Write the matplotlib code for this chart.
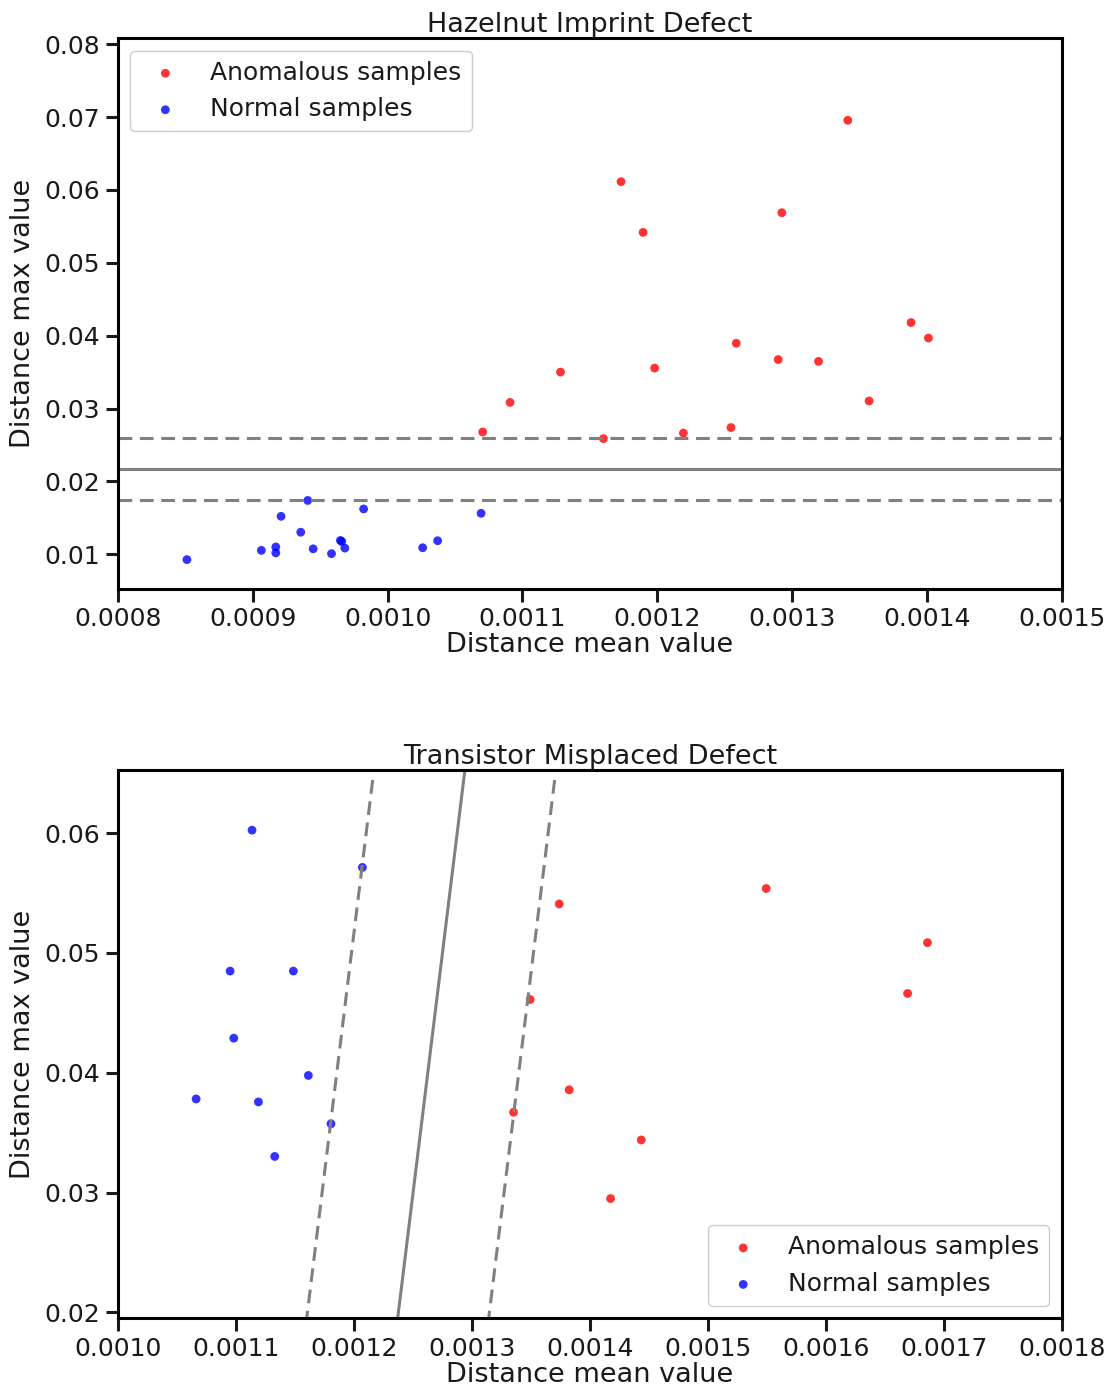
import numpy as np
import matplotlib
matplotlib.use('Agg')
import matplotlib.pyplot as plt

# --- Hazelnut imprint defect ---
hz_anom_mean = [0.0010705, 0.0010908, 0.0011282, 0.0011600, 0.0011731, 0.0011894, 0.0011980,
                0.0012193, 0.0012546, 0.0012585, 0.0012923, 0.0012896, 0.0013195, 0.0013412,
                0.0013570, 0.0013881, 0.0014010]
hz_anom_max = [0.02678, 0.03084, 0.03500, 0.02587, 0.06113, 0.05417, 0.03555,
               0.02663, 0.02739, 0.03896, 0.05687, 0.03672, 0.03647, 0.06955,
               0.03104, 0.04180, 0.03967]
hz_norm_mean = [0.0008512, 0.0009064, 0.0009171, 0.0009171, 0.0009210, 0.0009356, 0.0009408,
                0.0009448, 0.0009584, 0.0009650, 0.0009660, 0.0009683, 0.0009822, 0.0010260,
                0.0010371, 0.0010693]
hz_norm_max = [0.00927, 0.01054, 0.01100, 0.01019, 0.01521, 0.01303, 0.01739,
               0.01075, 0.01009, 0.01190, 0.01175, 0.01085, 0.01622, 0.01090,
               0.01186, 0.01562]
hz_threshold = 0.02165
hz_margin = 0.00424

# --- Transistor misplaced defect ---
tr_anom_mean = [0.0013740, 0.0013494, 0.0013824, 0.0013353, 0.0015494, 0.0016860, 0.0016692,
                0.0014435, 0.0014175]
tr_anom_max = [0.05409, 0.04612, 0.03858, 0.03671, 0.05538, 0.05086, 0.04662, 0.03440, 0.02951]
tr_norm_mean = [0.0011137, 0.0010951, 0.0011487, 0.0010982, 0.0011614, 0.0010663, 0.0011191,
                0.0011806, 0.0011329, 0.0012072]
tr_norm_max = [0.06025, 0.04849, 0.04849, 0.04289, 0.03978, 0.03782, 0.03757, 0.03575,
               0.03302, 0.05714]
# boundary: mean = tr_b0 + tr_b1 * max, margins shifted by +/- tr_margin along x
tr_b0 = 0.0012128
tr_b1 = 0.001245
tr_margin = 0.0000771

plt.rcParams['font.family'] = ['DejaVu Sans']
plt.rcParams['font.size'] = 18
plt.rcParams['text.color'] = '#1a1a1a'
plt.rcParams['axes.labelcolor'] = '#1a1a1a'
plt.rcParams['xtick.color'] = '#1a1a1a'
plt.rcParams['ytick.color'] = '#1a1a1a'

fig = plt.figure(figsize=(11.12, 13.93), dpi=100)
ax1 = fig.add_axes([0.106, 0.5775, 0.849, 0.395])
ax2 = fig.add_axes([0.106, 0.0535, 0.849, 0.394])


def style(ax):
	for s in ax.spines.values():
		s.set_linewidth(2.2)
		s.set_color('black')
	ax.tick_params(axis='both', which='major', length=9, width=2.2, labelsize=18, pad=4)
	ax.set_xlabel('Distance mean value', fontsize=19.5, labelpad=1)
	ax.set_ylabel('Distance max value', fontsize=19.5, labelpad=6)


# top panel
ax1.scatter(hz_anom_mean, hz_anom_max, s=40, c='red', alpha=0.8, edgecolors='none', label='Anomalous samples')
ax1.scatter(hz_norm_mean, hz_norm_max, s=40, c='blue', alpha=0.8, edgecolors='none', label='Normal samples')
ax1.axhline(hz_threshold, color='gray', lw=2.2, ls='-')
ax1.axhline(hz_threshold + hz_margin, color='gray', lw=2.2, ls=(0, (4.5, 2.5)))
ax1.axhline(hz_threshold - hz_margin, color='gray', lw=2.2, ls=(0, (4.5, 2.5)))
ax1.set_xlim(0.0008, 0.0015)
ax1.set_ylim(0.0053, 0.0808)
ax1.set_xticks(np.arange(0.0008, 0.00151, 0.0001))
ax1.set_xticklabels(['%.4f' % v for v in np.arange(0.0008, 0.00151, 0.0001)])
ax1.set_yticks(np.arange(0.01, 0.0801, 0.01))
ax1.set_yticklabels(['%.2f' % v for v in np.arange(0.01, 0.0801, 0.01)])
ax1.set_title('Hazelnut Imprint Defect', fontsize=19.5, pad=3)
style(ax1)
ax1.legend(loc='upper left', fontsize=18, frameon=True, edgecolor='#cccccc', framealpha=1)

# bottom panel
ax2.scatter(tr_anom_mean, tr_anom_max, s=40, c='red', alpha=0.8, edgecolors='none', label='Anomalous samples')
ax2.scatter(tr_norm_mean, tr_norm_max, s=40, c='blue', alpha=0.8, edgecolors='none', label='Normal samples')
yy = np.array([0.0190, 0.0650])
ax2.plot(tr_b0 + tr_b1 * yy, yy, color='gray', lw=2.2, ls='-')
ax2.plot(tr_b0 - tr_margin + tr_b1 * yy, yy, color='gray', lw=2.2, ls=(0, (4.5, 2.5)))
ax2.plot(tr_b0 + tr_margin + tr_b1 * yy, yy, color='gray', lw=2.2, ls=(0, (4.5, 2.5)))
ax2.set_xlim(0.0010, 0.0018)
ax2.set_ylim(0.0195, 0.0653)
ax2.set_xticks(np.arange(0.0010, 0.00181, 0.0001))
ax2.set_xticklabels(['%.4f' % v for v in np.arange(0.0010, 0.00181, 0.0001)])
ax2.set_yticks(np.arange(0.02, 0.0601, 0.01))
ax2.set_yticklabels(['%.2f' % v for v in np.arange(0.02, 0.0601, 0.01)])
ax2.set_title('Transistor Misplaced Defect', fontsize=19.5, pad=3)
style(ax2)
ax2.legend(loc='lower right', fontsize=18, frameon=True, edgecolor='#cccccc', framealpha=1)

fig.savefig('out.png', dpi=100)
